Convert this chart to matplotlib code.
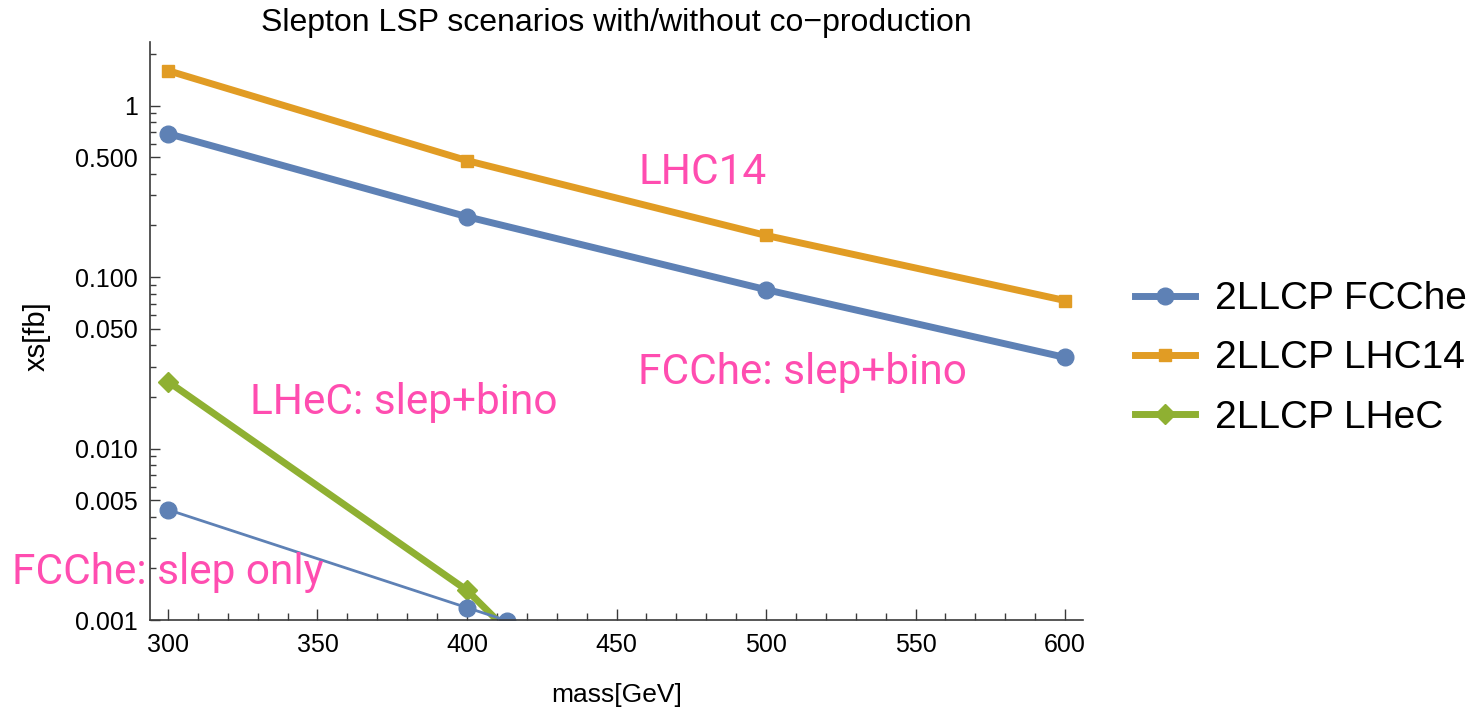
import matplotlib
matplotlib.use("Agg")
import matplotlib.pyplot as plt
from matplotlib.ticker import FixedLocator, FixedFormatter, NullFormatter
from matplotlib.lines import Line2D

# ---- data ----
mass = [300, 400, 500, 600]
fcche_bino = [0.687, 0.225, 0.0845, 0.034]
lhc14 = [1.60, 0.478, 0.175, 0.073]
lhec_mass = [300, 400, 410]
lhec = [0.0246, 0.00149, 0.001]
fcche_only_mass = [300, 400, 413.5]
fcche_only = [0.0044, 0.00118, 0.00099]

legend_labels = ["2LLCP FCChe", "2LLCP LHC14", "2LLCP LHeC"]
title = "Slepton LSP scenarios with/without co\u2212production"
xlabel = "mass[GeV]"
ylabel = "xs[fb]"
annotations = [
    ("LHC14", 457.2, 0.351),
    ("FCChe: slep+bino", 457.2, 0.0239),
    ("LHeC: slep+bino", 327.4, 0.016),
    ("FCChe: slep only", 247.8, 0.00163),
]
y_major = [0.001, 0.005, 0.01, 0.05, 0.1, 0.5, 1]
y_major_labels = ["0.001", "0.005", "0.010", "0.050", "0.100", "0.500", "1"]

BLUE = "#5E81B5"
ORANGE = "#E19C24"
GREEN = "#8FB032"
PINK = "#FF4DB0"
AXC = "#3a3a3a"
SANS = ["Liberation Sans", "DejaVu Sans"]

fig = plt.figure(figsize=(14.7, 7.09), dpi=100)
ax = fig.add_axes([150 / 1470, 1 - 620 / 709, (1083 - 150) / 1470, (620 - 41.7) / 709])

ax.plot(mass, fcche_bino, color=BLUE, lw=5, marker="o", ms=12, solid_capstyle="butt")
ax.plot(mass, lhc14, color=ORANGE, lw=5, marker="s", ms=9, solid_capstyle="butt")
ax.plot(lhec_mass, lhec, color=GREEN, lw=5, marker="D", ms=10, markevery=[0, 1],
        solid_capstyle="butt")
ax.plot(fcche_only_mass, fcche_only, color=BLUE, lw=2, marker="o", ms=12)

ax.set_yscale("log")
ax.set_xlim(294.0, 606.0)
ax.set_ylim(0.001, 2.36)

ax.xaxis.set_major_locator(FixedLocator(list(range(300, 601, 50))))
ax.xaxis.set_minor_locator(FixedLocator([m for m in range(290, 611, 10) if m % 50 != 0]))
ax.yaxis.set_major_locator(FixedLocator(y_major))
ax.yaxis.set_major_formatter(FixedFormatter(y_major_labels))
minor = []
for dec in [0.001, 0.01, 0.1, 1]:
    for k in [2, 3, 4, 6, 7, 8, 9]:
        minor.append(k * dec)
ax.yaxis.set_minor_locator(FixedLocator(minor))
ax.yaxis.set_minor_formatter(NullFormatter())

for s in ["top", "right"]:
    ax.spines[s].set_visible(False)
for s in ["left", "bottom"]:
    ax.spines[s].set_color(AXC)
    ax.spines[s].set_linewidth(1.2)

ax.tick_params(axis="both", which="both", direction="in", color=AXC, labelcolor="black")
ax.tick_params(axis="x", which="major", length=8, width=1, pad=9, labelsize=18)
ax.tick_params(axis="x", which="minor", length=5, width=1)
ax.tick_params(axis="y", which="major", length=7, width=1, pad=9, labelsize=18)
ax.tick_params(axis="y", which="minor", length=4, width=1)
for lab in ax.get_xticklabels() + ax.get_yticklabels():
    lab.set_family(SANS)

for txt, x, y in annotations:
    ax.text(x, y, txt, color=PINK, fontsize=30.5, family=["Roboto", "DejaVu Sans"],
            ha="left", va="baseline", clip_on=False)

fig.text(616.5 / 1470, 1 - 31 / 709, title, ha="center", va="baseline", fontsize=23,
         family=SANS)
fig.text(616.5 / 1470, 1 - 702 / 709, xlabel, ha="center", va="baseline", fontsize=19,
         family=SANS)
fig.text(37 / 1470, 1 - 336 / 709, ylabel, ha="center", va="center", rotation=90,
         fontsize=21, family=SANS)

handles = [
    Line2D([], [], color=BLUE, lw=5, marker="o", ms=12),
    Line2D([], [], color=ORANGE, lw=5, marker="s", ms=9),
    Line2D([], [], color=GREEN, lw=5, marker="D", ms=10),
]
fig.legend(handles, legend_labels, loc="center left", bbox_to_anchor=(1135 / 1470, 0.4944),
           frameon=False, borderpad=0, borderaxespad=0, handlelength=1.55,
           handletextpad=0.5, labelspacing=0.60, prop={"family": SANS, "size": 28})

fig.savefig("out.png", dpi=100)
